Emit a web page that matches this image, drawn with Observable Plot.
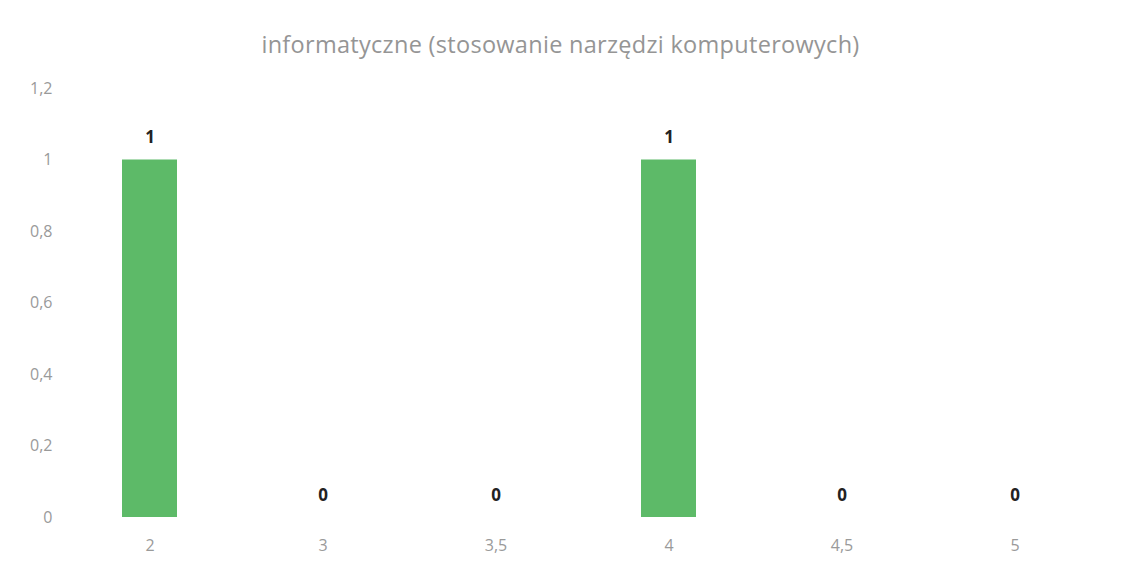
<!DOCTYPE html>
<html>
<head>
<meta charset="utf-8">
<script src="https://cdn.jsdelivr.net/npm/d3@7"></script>
<script src="https://cdn.jsdelivr.net/npm/@observablehq/plot@0.6"></script>
<style>
  body { margin: 0; background: #fff; }
  #title { height: 70px; line-height: 88px; text-align: center; font-family: "Open Sans", Lato, sans-serif; font-size: 23.5px; color: #959595; letter-spacing: 0.3px; }
</style>
</head>
<body>
<div id="title">informatyczne (stosowanie narzędzi komputerowych)</div>
<div id="chart"></div>
<script>
const categories = ["2", "3", "3,5", "4", "4,5", "5"];
const values = [1, 0, 0, 1, 0, 0];
const yTicks = [0, 0.2, 0.4, 0.6, 0.8, 1, 1.2];

const data = categories.map((c, i) => ({category: c, value: values[i]}));
const fmt = d => String(d).replace(".", ",");

const chart = Plot.plot({
  width: 1121,
  height: 504,
  marginTop: 18,
  marginBottom: 57,
  marginLeft: 61,
  marginRight: 19,
  style: {fontFamily: "Open Sans, Lato, sans-serif", fontSize: "16px", color: "#9a9a9a", background: "#fff"},
  x: {domain: categories, paddingInner: 0.683, paddingOuter: 0.343, label: null, tickSize: 0, tickPadding: 22},
  y: {domain: [0, 1.2], ticks: yTicks, tickFormat: fmt, label: null, tickSize: 0, tickPadding: 9},
  marks: [
    Plot.barY(data, {x: "category", y: "value", fill: "#5dba68"}),
    Plot.text(data, {x: "category", y: "value", text: d => fmt(d.value), dy: -22, fontWeight: "bold", fontSize: 17, fill: "#222"})
  ]
});
document.getElementById("chart").appendChild(chart);
</script>
</body>
</html>
